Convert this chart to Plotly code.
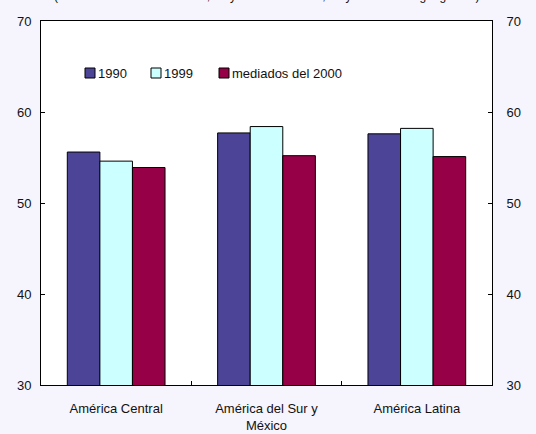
import plotly.graph_objects as go

# Regions and participation values by period
regiones = ["América Central", "América del Sur y<br>México", "América Latina"]
valores_1990 = [55.6, 57.7, 57.6]
valores_1999 = [54.6, 58.4, 58.2]
valores_2000 = [53.9, 55.2, 55.1]
series_nombres = ["1990", "1999", "mediados del 2000"]
y_ticks = [30, 40, 50, 60, 70]

colores = ["#4B4497", "#CCFFFF", "#960046"]
fuente = dict(family="Arial, Liberation Sans, sans-serif", size=13, color="#111111")

fig = go.Figure()
for nombre, vals, col in zip(series_nombres, [valores_1990, valores_1999, valores_2000], colores):
    fig.add_trace(go.Bar(
        x=regiones, y=vals, name=nombre, showlegend=False,
        marker=dict(color=col, line=dict(color="#000000", width=1)),
    ))

# invisible trace so the right-hand axis is rendered
fig.add_trace(go.Scatter(x=[regiones[0]], y=[None], yaxis="y2",
                         showlegend=False, hoverinfo="skip"))

eje_y = dict(
    range=[30, 70], tickvals=y_ticks, ticks="inside", ticklen=4,
    tickcolor="#000000", showline=True, linecolor="#000000", linewidth=1,
    showgrid=False, zeroline=False, tickfont=fuente, automargin=False,
)

fig.update_layout(
    width=536, height=434,
    margin=dict(l=41, r=44, t=21, b=49),
    paper_bgcolor="#F6F4FC", plot_bgcolor="#FFFFFF",
    barmode="group", bargap=0.35, bargroupgap=0,
    font=fuente,
    showlegend=False,
    xaxis=dict(
        showline=True, linecolor="#000000", linewidth=1, mirror=True,
        ticks="inside", ticklen=4, tickcolor="#000000", tickson="boundaries",
        showgrid=False, tickfont=fuente, ticklabelstandoff=11, automargin=False,
    ),
    yaxis=dict(side="left", ticklabelstandoff=6, **eje_y),
    yaxis2=dict(side="right", overlaying="y", anchor="x", ticklabelstandoff=11, **eje_y),
)

# compact legend: small outlined squares with the label right beside them
ancho_plot = 536 - 41 - 44
alto_plot = 434 - 21 - 49
leyenda_px = [85, 151, 219]   # left edge of each legend square, in pixels
leyenda_y_px = 73
lado = 10
for nombre, col, px in zip(series_nombres, colores, leyenda_px):
    x0 = (px - 41) / ancho_plot
    x1 = (px + lado - 41) / ancho_plot
    y0 = (385 - leyenda_y_px - lado / 2) / alto_plot
    y1 = (385 - leyenda_y_px + lado / 2) / alto_plot
    fig.add_shape(type="rect", xref="paper", yref="paper", x0=x0, x1=x1, y0=y0, y1=y1,
                  fillcolor=col, line=dict(color="#000000", width=1))
    fig.add_annotation(text=nombre, xref="paper", yref="paper",
                       x=(px + lado + 1 - 41) / ancho_plot, y=(385 - leyenda_y_px) / alto_plot,
                       xanchor="left", yanchor="middle", showarrow=False, font=fuente)

# subtitle line sitting at the very top edge of the page
fig.add_annotation(
    text="(Sobre la base de encuestas, mayores de 15 años, mayor cobertura geográfica)",
    xref="paper", yref="paper", x=0.5, y=1, xanchor="center", yanchor="bottom",
    yshift=16, showarrow=False, font=dict(fuente, size=12),
)

fig.write_html("out.html")
